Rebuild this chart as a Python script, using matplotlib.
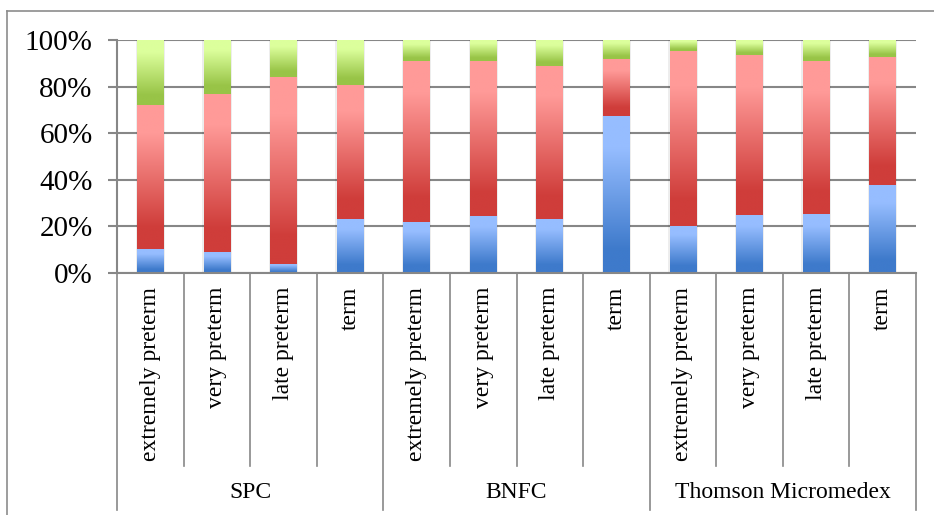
import numpy as np
import matplotlib
matplotlib.use("Agg")
import matplotlib.pyplot as plt
from matplotlib.colors import LinearSegmentedColormap

plt.rcParams['font.family'] = ['Liberation Serif', 'DejaVu Serif']

sources = ["SPC", "BNFC", "Thomson Micromedex"]
ages = ["extremely preterm", "very preterm", "late preterm", "term"]

# percentage of each stacked segment, bottom to top, one value per bar
blue = [10.2, 8.8, 4.0, 23.2, 21.9, 24.5, 23.3, 67.3, 20.3, 25.1, 25.3, 37.6]
red = [61.9, 67.9, 80.0, 57.7, 69.3, 66.4, 65.7, 24.4, 74.9, 68.5, 65.6, 55.0]
green = [27.9, 23.3, 16.0, 19.1, 8.8, 9.1, 11.0, 8.3, 4.8, 6.4, 9.1, 7.4]

yticks = [0, 20, 40, 60, 80, 100]

W, H = 934, 515
fig = plt.figure(figsize=(W / 100, H / 100), dpi=100)

# outer chart frame (top and left edges visible)
fig.add_artist(plt.Line2D([7 / W, 1], [1 - 11 / H, 1 - 11 / H], color="#8c8c8c", lw=1.2))
fig.add_artist(plt.Line2D([7 / W, 7 / W], [0, 1 - 11 / H], color="#8c8c8c", lw=1.2))

x0, x1, ytop, ybot = 117, 916, 40, 273
ax = fig.add_axes([x0 / W, 1 - ybot / H, (x1 - x0) / W, (ybot - ytop) / H])

n = len(blue)
xs = np.arange(n) + 0.5
bw = 0.4

ax.set_xlim(0, n)
ax.set_ylim(0, 100)

grid_c = "#878787"
for v in yticks:
    ax.axhline(v, color=grid_c, lw=1.5, zorder=0)

def grad_cmap(dark, light):
    return LinearSegmentedColormap.from_list(
        "g", [(0.0, dark), (0.15, dark), (0.8, light), (1.0, light)])

cmaps = [grad_cmap("#3e7acb", "#96bdff"),
         grad_cmap("#cf3d3a", "#ff9a98"),
         grad_cmap("#98c447", "#dcff9c")]

ramp = np.linspace(0, 1, 256).reshape(-1, 1)
bottom = np.zeros(n)
for vals, cm in zip([blue, red, green], cmaps):
    vals = np.array(vals)
    # soft shadow behind each segment
    ax.bar(xs, vals, bw + 0.04, bottom=bottom, color="#000000", alpha=0.07,
           linewidth=0, zorder=1)
    bars = ax.bar(xs, vals, bw, bottom=bottom, color="none", linewidth=0, zorder=2)
    for rect, b, v, x in zip(bars, bottom, vals, xs):
        im = ax.imshow(ramp, cmap=cm, origin="lower", aspect="auto",
                       extent=(x - bw / 2, x + bw / 2, b, b + v),
                       interpolation="bilinear", zorder=2)
        im.set_clip_path(rect)
    bottom = bottom + vals

ax.set_xlim(0, n)
ax.set_ylim(0, 100)

for s in ["top", "right", "bottom"]:
    ax.spines[s].set_visible(False)
ax.spines["left"].set_color(grid_c)
ax.spines["left"].set_linewidth(1.5)

ax.set_yticks(yticks)
ax.set_yticklabels([f"{v}%" for v in yticks], fontsize=21)
ax.tick_params(axis="y", length=6.5, width=1.5, color=grid_c, pad=11)
ax.set_xticks([])

tr = ax.get_xaxis_transform()
ph = ybot - ytop
# category axis line and separators
ax.plot([0, n], [0, 0], transform=tr, color=grid_c, lw=1.5, clip_on=False)
for i in range(n + 1):
    end = -(510 - ybot) / ph if i % len(ages) == 0 else -(466 - ybot) / ph
    ax.plot([i, i], [0, end], transform=tr, color=grid_c, lw=1.2, clip_on=False)

labels = ages * len(sources)
for x, lab in zip(xs, labels):
    ax.text(x, -(287 - ybot) / ph, lab, transform=tr, rotation=90,
            ha="center", va="top", fontsize=17)

for k, src in enumerate(sources):
    ax.text(k * len(ages) + len(ages) / 2, -(492 - ybot) / ph, src, transform=tr,
            ha="center", va="center", fontsize=17)

fig.savefig("out.png", dpi=100)
